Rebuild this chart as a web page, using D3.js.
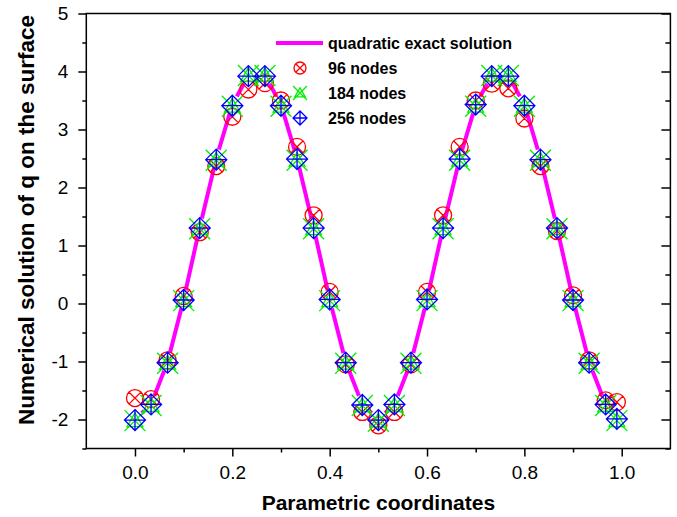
<!DOCTYPE html>
<html>
<head>
<meta charset="utf-8">
<script src="https://cdn.jsdelivr.net/npm/d3@7"></script>
<style>
  body { margin: 0; background: #fff; }
  svg { display: block; font-family: 'Liberation Sans', Arial, sans-serif; }
</style>
</head>
<body>
<svg width="677" height="517"></svg>
<script>
// Parametric coordinate of each sampled point
const xValues = [0, 0.033, 0.067, 0.1, 0.133, 0.167, 0.2, 0.233, 0.267, 0.3,
  0.333, 0.367, 0.4, 0.433, 0.467, 0.5, 0.533, 0.567, 0.6, 0.633,
  0.667, 0.7, 0.733, 0.767, 0.8, 0.833, 0.867, 0.9, 0.933, 0.967, 0.99];

const exactValues = [-2.0, -1.74, -1.01, 0.07, 1.31, 2.5, 3.43, 3.93, 3.93, 3.43,
  2.5, 1.31, 0.07, -1.01, -1.74, -2.0, -1.74, -1.01, 0.07, 1.31,
  2.5, 3.43, 3.93, 3.93, 3.43, 2.5, 1.31, 0.07, -1.01, -1.74, -1.98];

const nodes96 = [-1.63, -1.65, -0.98, 0.13, 1.23, 2.37, 3.22, 3.69, 3.8, 3.5,
  2.7, 1.52, 0.2, -1.05, -1.87, -2.1, -1.87, -1.05, 0.2, 1.52,
  2.7, 3.5, 3.79, 3.71, 3.19, 2.37, 1.25, 0.14, -0.98, -1.67, -1.7];

const nodes184 = [-2.02, -1.76, -1.03, 0.05, 1.29, 2.47, 3.4, 3.93, 3.93, 3.4,
  2.47, 1.29, 0.05, -1.03, -1.76, -2.03, -1.76, -1.03, 0.05, 1.29,
  2.47, 3.4, 3.93, 3.93, 3.4, 2.47, 1.29, 0.05, -1.03, -1.76, -2.02];

const nodes256 = [-2.01, -1.74, -1.02, 0.06, 1.3, 2.48, 3.41, 3.92, 3.92, 3.41,
  2.49, 1.3, 0.07, -1.02, -1.75, -2.01, -1.74, -1.02, 0.07, 1.3,
  2.49, 3.43, 3.92, 3.92, 3.41, 2.48, 1.3, 0.06, -1.02, -1.74, -1.99];

const xMajorTicks = [0, 0.2, 0.4, 0.6, 0.8, 1.0];
const xMinorTicks = [0.1, 0.3, 0.5, 0.7, 0.9];
const yMajorTicks = [-2, -1, 0, 1, 2, 3, 4, 5];
const yMinorTicks = [-2.5, -1.5, -0.5, 0.5, 1.5, 2.5, 3.5, 4.5];

const legendLabels = ['quadratic exact solution', '96 nodes', '184 nodes', '256 nodes'];

const svg = d3.select('svg');
const plot = { left: 86.3, right: 670.4, top: 13.5, bottom: 448.5 };

const x = d3.scaleLinear().domain([-0.1, 1.1]).range([plot.left, plot.right]);
const y = d3.scaleLinear().domain([-2.5, 5]).range([plot.bottom, plot.top]);

// marker shapes, centred on 0,0
function circleCross(r) {
  const a = r * 0.72;
  return `M${r},0A${r},${r} 0 1,1 ${-r},0A${r},${r} 0 1,1 ${r},0Z` +
    `M${-a},${-a}L${a},${a}M${-a},${a}L${a},${-a}`;
}
function triangleCross(s) {
  const h = s * 0.75;
  return `M${-s},${-s}L${s},${s}M${-s},${s}L${s},${-s}` +
    `M0,${-h}L${h},${h * 0.75}L${-h},${h * 0.75}Z`;
}
function diamondPlus(s) {
  return `M0,${-s}L${s},0L0,${s}L${-s},0Z M0,${-s}L0,${s}M${-s},0L${s},0`;
}

const series = [
  { values: nodes96, color: '#ff0000', shape: circleCross, size: 8.5, legendSize: 6 },
  { values: nodes184, color: '#00f000', shape: triangleCross, size: 10.5, legendSize: 7 },
  { values: nodes256, color: '#0000ff', shape: diamondPlus, size: 10.5, legendSize: 7 }
];

// gaps in the exact line around each symbol
const defs = svg.append('defs');
const mask = defs
  .append('mask')
  .attr('id', 'gap')
  .attr('maskUnits', 'userSpaceOnUse')
  .attr('x', 0)
  .attr('y', 0)
  .attr('width', 677)
  .attr('height', 517);
mask
  .append('rect')
  .attr('width', 677)
  .attr('height', 517)
  .attr('fill', '#fff');
mask
  .selectAll('circle')
  .data(xValues)
  .enter()
  .append('circle')
  .attr('cx', d => x(d))
  .attr('cy', (d, i) => y(exactValues[i]))
  .attr('r', 9.5)
  .attr('fill', '#000');

// Exact solution line
const line = d3
  .line()
  .x(d => x(d[0]))
  .y(d => y(d[1]));

svg
  .append('path')
  .datum(xValues.map((d, i) => [d, exactValues[i]]))
  .attr('d', line)
  .attr('fill', 'none')
  .attr('stroke', '#ff00ff')
  .attr('stroke-width', 4)
  .attr('mask', 'url(#gap)');

// Symbols
series.forEach(s => {
  svg
    .append('g')
    .selectAll('path')
    .data(xValues)
    .enter()
    .append('path')
    .attr('transform', (d, i) => `translate(${x(d)},${y(s.values[i])})`)
    .attr('d', s.shape(s.size))
    .attr('fill', 'none')
    .attr('stroke', s.color)
    .attr('stroke-width', 1.3);
});

// Axes
const fmt = d => String(d);

svg
  .append('g')
  .attr('transform', `translate(0,${plot.bottom})`)
  .call(d3.axisBottom(x).tickValues(xMajorTicks).tickSize(8).tickPadding(9).tickFormat(d3.format('.1f')))
  .call(g => g.select('.domain').remove());

svg
  .append('g')
  .attr('transform', `translate(0,${plot.bottom})`)
  .call(d3.axisBottom(x).tickValues(xMinorTicks).tickSize(4).tickFormat(''))
  .call(g => g.select('.domain').remove());

svg
  .append('g')
  .attr('transform', `translate(${plot.left},0)`)
  .call(d3.axisLeft(y).tickValues(yMajorTicks).tickSize(8).tickPadding(10).tickFormat(fmt))
  .call(g => g.select('.domain').remove());

svg
  .append('g')
  .attr('transform', `translate(${plot.left},0)`)
  .call(d3.axisLeft(y).tickValues(yMinorTicks).tickSize(4).tickFormat(''))
  .call(g => g.select('.domain').remove());

// right side, ticks point inward
svg
  .append('g')
  .attr('transform', `translate(${plot.right},0)`)
  .call(d3.axisLeft(y).tickValues(yMajorTicks).tickSize(9).tickFormat(''))
  .call(g => g.select('.domain').remove());

svg
  .append('g')
  .attr('transform', `translate(${plot.right},0)`)
  .call(d3.axisLeft(y).tickValues(yMinorTicks).tickSize(5).tickFormat(''))
  .call(g => g.select('.domain').remove());

svg.selectAll('.tick line').attr('stroke', '#000').attr('stroke-width', 1.5);
svg
  .selectAll('.tick text')
  .attr('fill', '#000')
  .attr('font-size', 19)
  .attr('font-family', "'Liberation Sans', Arial, sans-serif");

// Frame
svg
  .append('rect')
  .attr('x', plot.left)
  .attr('y', plot.top)
  .attr('width', plot.right - plot.left)
  .attr('height', plot.bottom - plot.top)
  .attr('fill', 'none')
  .attr('stroke', '#000')
  .attr('stroke-width', 1.5);

// Axis titles
svg
  .append('text')
  .attr('x', (plot.left + plot.right) / 2)
  .attr('y', 510)
  .attr('text-anchor', 'middle')
  .attr('font-size', 21)
  .attr('font-weight', 'bold')
  .text('Parametric coordinates');

svg
  .append('text')
  .attr('transform', 'translate(34,220) rotate(-90)')
  .attr('text-anchor', 'middle')
  .attr('font-size', 22.5)
  .attr('font-weight', 'bold')
  .text('Numerical solution of q on the surface');

// Legend
const legend = svg.append('g').attr('transform', 'translate(276,43)');

legend
  .append('line')
  .attr('x1', 0)
  .attr('x2', 47)
  .attr('stroke', '#ff00ff')
  .attr('stroke-width', 4);

legend
  .selectAll('path')
  .data(series)
  .enter()
  .append('path')
  .attr('transform', (d, i) => `translate(24,${(i + 1) * 25})`)
  .attr('d', d => d.shape(d.legendSize))
  .attr('fill', 'none')
  .attr('stroke', d => d.color)
  .attr('stroke-width', 1.3);

legend
  .selectAll('text')
  .data(legendLabels)
  .enter()
  .append('text')
  .attr('x', 52)
  .attr('y', (d, i) => i * 25 + 6)
  .attr('font-size', 16)
  .attr('font-weight', 'bold')
  .text(d => d);
</script>
</body>
</html>
